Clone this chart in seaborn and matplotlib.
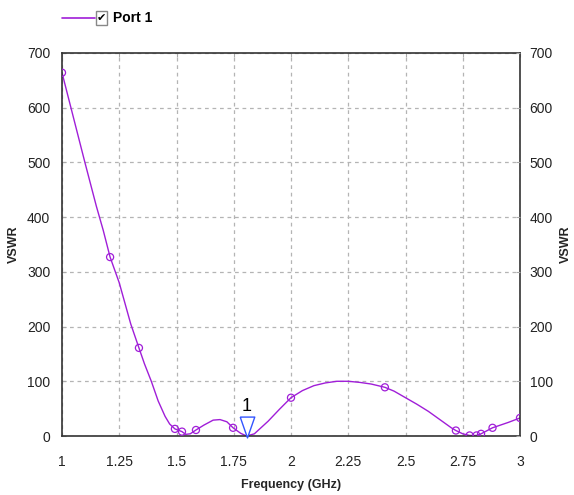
import matplotlib
matplotlib.use("Agg")
import matplotlib.pyplot as plt
import seaborn as sns
import pandas as pd
from matplotlib.lines import Line2D
from matplotlib.patches import Rectangle

sns.set_style("white")
plt.rcParams['font.family'] = ['Liberation Sans', 'DejaVu Sans']

# Curve
freq = [1.0, 1.05, 1.1, 1.15, 1.18, 1.21, 1.25, 1.3, 1.336, 1.36, 1.39, 1.42, 1.45, 1.47, 1.493, 1.524,
        1.54, 1.56, 1.585, 1.62, 1.66, 1.69, 1.72, 1.747, 1.78, 1.806, 1.84, 1.9, 1.95, 2.0, 2.05,
        2.1, 2.15, 2.2, 2.25, 2.3, 2.35, 2.41, 2.45, 2.5, 2.55, 2.6, 2.65, 2.7, 2.72, 2.75, 2.78,
        2.81, 2.83, 2.88, 2.95, 3.0]
vswr = [664, 582, 500, 420, 376, 327, 280, 205, 161, 132, 100, 64, 36, 22, 13, 8,
        3, 4, 11, 20, 29, 30, 26, 15, 5, 0, 4, 27, 49, 70, 83,
        92, 97, 100, 100, 98, 95, 89, 82, 70, 58, 45, 30, 15, 10, 4, 1,
        1, 4, 15, 25, 33]

# Circle markers
mk_freq = [1.0, 1.21, 1.336, 1.493, 1.524, 1.585, 1.747, 2.0, 2.41, 2.72, 2.78, 2.81, 2.83, 2.88, 3.0]
mk_vswr = [664, 327, 161, 13, 8, 11, 15, 70, 89, 10, 1, 1, 4, 15, 33]

marker_freq = 1.806
marker_label = "1"

x_ticks = [1, 1.25, 1.5, 1.75, 2, 2.25, 2.5, 2.75, 3]
x_ticklabels = ["1", "1.25", "1.5", "1.75", "2", "2.25", "2.5", "2.75", "3"]
y_ticks = [0, 100, 200, 300, 400, 500, 600, 700]

purple = '#a01ed8'

fig = plt.figure(figsize=(5.74, 4.95), dpi=100)
ax = fig.add_axes([62/574, 1-436/495, (520-62)/574, (436-53)/495])

df = pd.DataFrame({"freq": freq, "vswr": vswr})
sns.lineplot(data=df, x="freq", y="vswr", ax=ax, color=purple, lw=1.0, sort=False)
mdf = pd.DataFrame({"freq": mk_freq, "vswr": mk_vswr})
sns.scatterplot(data=mdf, x="freq", y="vswr", ax=ax, marker='o', s=26,
                facecolors='none', edgecolor=purple, linewidth=0.9, zorder=5)

ax.set_xlim(1, 3)
ax.set_ylim(0, 700)
ax.set_xticks(x_ticks)
ax.set_xticklabels(x_ticklabels)
ax.set_yticks(y_ticks)
ax.grid(True, color='#b4b4b4', ls=(0, (3, 3)), lw=0.9)
for s in ax.spines.values():
    s.set_color('#333333')
    s.set_linewidth(1.2)
ax.tick_params(axis='both', direction='in', length=3, color='#aaaaaa', labelsize=10,
               labelcolor='#222222', top=True)
ax.tick_params(axis='x', pad=14)
ax.tick_params(axis='y', pad=8.5)
ax.set_xlabel("Frequency (GHz)", fontsize=9, fontweight='bold', labelpad=7)
ax.set_ylabel("VSWR", fontsize=9, fontweight='bold', labelpad=5)

ax2 = ax.twinx()
ax2.set_ylim(0, 700)
ax2.set_yticks(y_ticks)
ax2.tick_params(axis='y', direction='in', length=3, color='#aaaaaa', labelsize=10,
                labelcolor='#222222', pad=7)
ax2.set_ylabel("VSWR", fontsize=9, fontweight='bold', rotation=90, labelpad=5)
for s in ax2.spines.values():
    s.set_visible(False)

# Marker 1 (open blue triangle pointing down at the curve)
tri = [(-0.7, 1), (0.7, 1), (0, -1), (-0.7, 1)]
ax.plot([marker_freq], [17], marker=tri, markersize=15, markerfacecolor='white',
        markeredgecolor='#3355ff', markeredgewidth=1.0, clip_on=False, zorder=6, ls='none')
ax.text(marker_freq, 54, marker_label, ha='center', va='center', fontsize=13, color='black')

# Legend
fig.add_artist(Line2D([62/574, 95/574], [1-18/495, 1-18/495], color=purple, lw=1.2))
fig.add_artist(Rectangle((96/574, 1-25/495), 11/574, 14/495, fill=False, ec='#888888', lw=1))
fig.text(101.5/574, 1-18/495, "✔", ha='center', va='center', fontsize=8,
         family=['DejaVu Sans'], color='black')
fig.text(113/574, 1-18/495, "Port 1", ha='left', va='center', fontsize=10,
         fontweight='bold', color='black')

fig.savefig("out.png", dpi=100)
